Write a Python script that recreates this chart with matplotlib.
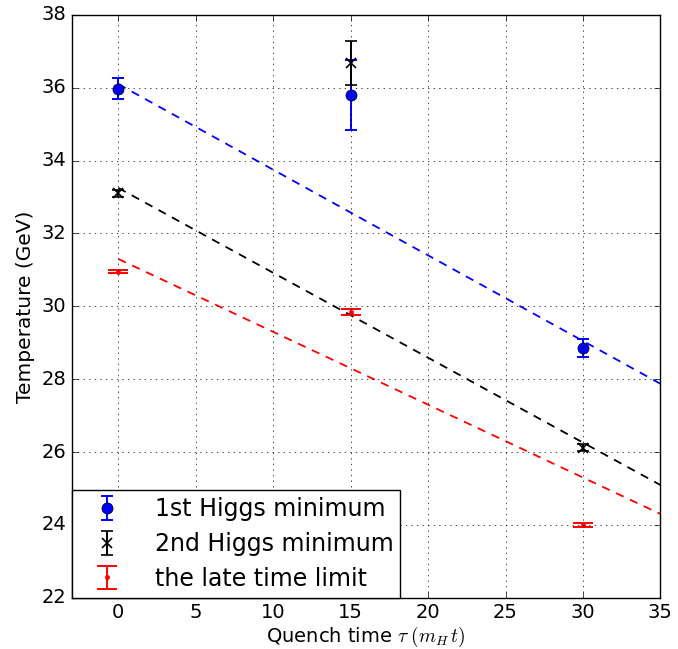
import numpy as np
import matplotlib
matplotlib.use("Agg")
import matplotlib.pyplot as plt

plt.style.use("classic")

# quench times
tau = [0, 15, 30]

# temperatures (GeV) and errors
t_first = [35.98, 35.80, 28.85]
e_first = [0.30, 0.95, 0.25]
t_second = [33.10, 36.68, 26.12]
e_second = [0.10, 0.60, 0.10]
t_late = [30.95, 29.85, 24.00]
e_late = [0.04, 0.08, 0.05]

# linear fits (intercept, slope)
fit_first = (36.10, -0.235)
fit_second = (33.25, -0.233)
fit_late = (31.30, -0.200)

fig = plt.figure(figsize=(6.78, 6.49), dpi=100)
ax = fig.add_axes([0.106, 0.079, 0.868, 0.898])

xs = np.array([0, 35])
ax.plot(xs, fit_first[0] + fit_first[1] * xs, "b--", lw=1.3, dashes=(6, 5))
ax.plot(xs, fit_second[0] + fit_second[1] * xs, "k--", lw=1.3, dashes=(6, 5))
ax.plot(xs, fit_late[0] + fit_late[1] * xs, "r--", lw=1.3, dashes=(6, 5))

ax.errorbar(tau, t_first, yerr=e_first, fmt="o", color="b", ecolor="b",
            markersize=8, elinewidth=1.4, capthick=1.4, capsize=4,
            label="1st Higgs minimum")
ax.errorbar(tau, t_second, yerr=e_second, fmt="x", color="k", ecolor="k",
            markersize=7, mew=1.2, elinewidth=1.4, capthick=1.4, capsize=4,
            label="2nd Higgs minimum")
ax.errorbar(tau, t_late, yerr=e_late, fmt=".", color="r", ecolor="r",
            elinewidth=1.4, capthick=1.4, capsize=7,
            label="the late time limit")

ax.set_xlim(-3, 35)
ax.set_ylim(22, 38)
ax.set_xticks([0, 5, 10, 15, 20, 25, 30, 35])
ax.grid(True)
ax.set_xlabel(r"Quench time $\tau\;(m_H\,t)$", fontsize=14, labelpad=2)
ax.set_ylabel("Temperature (GeV)", fontsize=14.5)
ax.tick_params(labelsize=14)
ax.legend(loc="lower left", numpoints=1, fontsize=17, borderaxespad=0.0,
          handlelength=2.4, handletextpad=0.8, borderpad=0.3,
          labelspacing=0.45)

fig.savefig("out.png", dpi=100)
